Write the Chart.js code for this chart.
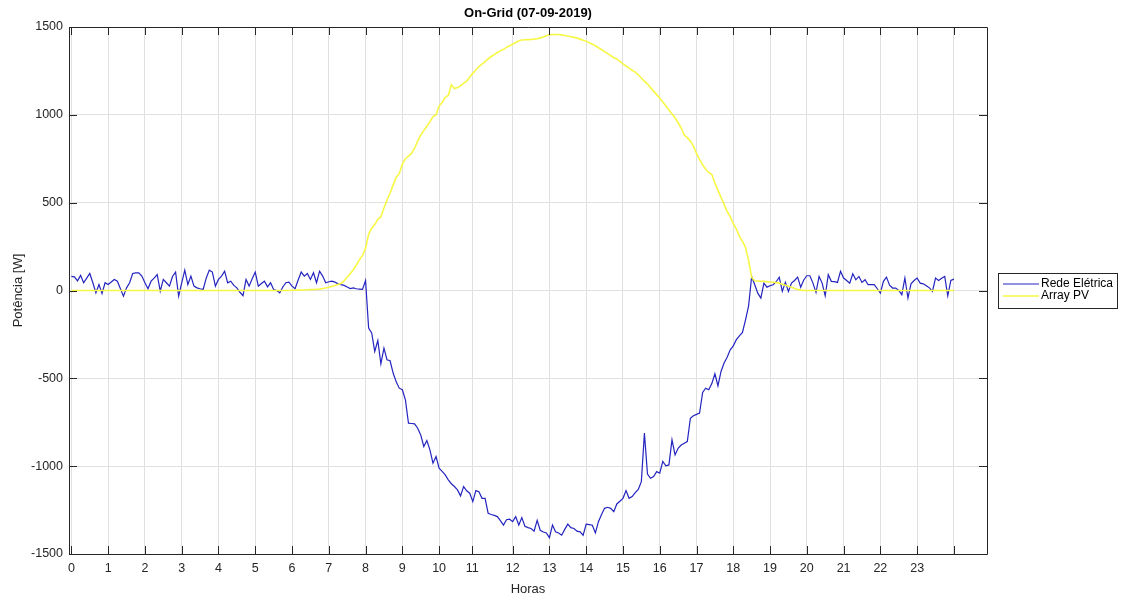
<!DOCTYPE html>
<html>
<head>
<meta charset="utf-8">
<title>On-Grid (07-09-2019)</title>
<script src="https://cdn.jsdelivr.net/npm/chart.js@4.4.1/dist/chart.umd.min.js"></script>
<style>
  html, body { margin: 0; padding: 0; background: #fff; }
  #wrap { width: 1121px; height: 601px; }
</style>
</head>
<body>
<div id="wrap"><canvas id="potChart" width="1121" height="601"></canvas></div>
<script>
// potência da rede elétrica [W], uma amostra a cada 5 min (uma linha por hora)
const rede = [
    80, 78, 55, 86, 44, 70, 97, 44, -13, 34, -17, 44,
    34, 48, 63, 53, 10, -32, 15, 44, 97, 100, 101, 82,
    44, 10, 53, 70, 91, -4, 63, 44, 25, 80, 105, -32,
    44, 116, 34, 82, 25, 15, 10, 6, 70, 116, 105, 25,
    63, 82, 110, 44, 53, 29, 15, -10, -29, 63, 25, 67,
    105, 25, 40, 53, 21, 44, 6, 0, -13, 20, 44, 48,
    25, 10, 60, 105, 82, 97, 63, 101, 44, 110, 82, 44,
    50, 53, 48, 38, 33, 29, 20, 11, 15, 10, 8, 6,
    57, -214, -242, -347, -284, -417, -328, -394, -400, -470, -520, -556,
    -565, -622, -755, -757, -759, -784, -822, -888, -854, -907, -983, -945,
    -1012, -1030, -1050, -1078, -1100, -1116, -1135, -1169, -1116, -1140, -1154, -1202,
    -1139, -1145, -1183, -1183, -1268, -1275, -1280, -1287, -1310, -1335, -1305, -1302,
    -1316, -1287, -1335, -1293, -1342, -1350, -1355, -1370, -1308, -1365, -1375, -1380,
    -1407, -1335, -1374, -1380, -1393, -1360, -1330, -1350, -1355, -1370, -1374, -1393,
    -1330, -1333, -1336, -1380, -1316, -1275, -1240, -1234, -1240, -1259, -1215, -1200,
    -1183, -1139, -1183, -1173, -1150, -1132, -1088, -812, -1045, -1069, -1059, -1031,
    -1040, -973, -998, -993, -850, -936, -898, -880, -869, -860, -727, -713,
    -705, -698, -580, -556, -565, -530, -474, -543, -461, -413, -380, -338,
    -315, -280, -258, -239, -167, -87, 80, 33, -15, -43, 42, 19,
    27, 33, 50, 76, -5, 46, -5, 42, 57, 76, 19, 60,
    84, 84, 42, -11, 80, 42, -30, 90, 52, 50, 46, 109,
    71, 57, 42, 95, 61, 80, 46, 61, 33, 33, 33, 10,
    -15, 52, 76, 30, 14, 14, 0, -24, 71, -43, 38, 57,
    71, 42, 38, 27, 15, -5, 71, 57, 70, 80, -30, 57,
    65
];

// potência do arranjo fotovoltaico [W], mesmas amostras
const arrayPV = [
    0, 0, 0, 0, 0, 0, 0, 0, 0, 0, 0, 0,
    0, 0, 0, 0, 0, 0, 0, 0, 0, 0, 0, 0,
    0, 0, 0, 0, 0, 0, 0, 0, 0, 0, 0, 0,
    0, 0, 0, 0, 0, 0, 0, 0, 0, 0, 0, 0,
    0, 0, 0, 0, 0, 0, 0, 0, 0, 0, 0, 0,
    0, 0, 0, 0, 0, 0, 0, 0, 0, 0, 0, 0,
    1, 1, 2, 3, 3, 4, 5, 6, 7, 8, 11, 14,
    18, 23, 28, 34, 40, 55, 75, 95, 118, 145, 175, 200,
    240, 320, 355, 375, 405, 420, 470, 515, 555, 600, 645, 665,
    720, 750, 765, 780, 810, 850, 885, 910, 935, 960, 990, 1000,
    1050, 1070, 1100, 1110, 1172, 1150, 1155, 1165, 1180, 1192, 1215, 1236,
    1255, 1275, 1288, 1303, 1318, 1332, 1343, 1355, 1364, 1373, 1384, 1393,
    1402, 1412, 1422, 1426, 1427, 1428, 1429, 1431, 1433, 1438, 1443, 1450,
    1456, 1457, 1457, 1457, 1455, 1452, 1449, 1445, 1441, 1437, 1431, 1425,
    1419, 1411, 1402, 1393, 1382, 1372, 1360, 1348, 1337, 1325, 1318, 1305,
    1290, 1278, 1266, 1254, 1243, 1228, 1210, 1192, 1175, 1155, 1135, 1115,
    1095, 1073, 1050, 1028, 1005, 983, 955, 925, 885, 870, 850, 822,
    780, 745, 715, 690, 672, 660, 612, 570, 530, 490, 450, 420,
    380, 350, 310, 280, 245, 170, 75, 55, 54, 53, 52, 50,
    48, 47, 45, 42, 36, 30, 24, 18, 12, 6, 2, 0,
    0, 0, 0, 0, 0, 0, 0, 0, 0, 0, 0, 0,
    0, 0, 0, 0, 0, 0, 0, 0, 0, 0, 0, 0,
    0, 0, 0, 0, 0, 0, 0, 0, 0, 0, 0, 0,
    0, 0, 0, 0, 0, 0, 0, 0, 0, 0, 0, 0,
    0
];

// marcas do eixo x (em horas) e seus rótulos
const tickHours = [0, 1, 2, 3, 4, 5, 6, 7, 8, 9, 10, 10.9, 12, 13, 14, 15, 16, 17, 18, 19, 20, 21, 22, 23, 24];
const tickLabels = ['0', '1', '2', '3', '4', '5', '6', '7', '8', '9', '10', '11', '12', '13', '14', '15', '16', '17', '18', '19', '20', '21', '22', '23', ''];
const yTicks = [-1500, -1000, -500, 0, 500, 1000, 1500];

const seriesNames = ['Rede Elétrica', 'Array PV'];
const seriesColors = ['#2424c0', '#f7f745'];

const FONT = "'Liberation Sans', Arial, sans-serif";
const AXIS = '#262626';

// tempo de cada amostra em horas (5 min)
const hours = rede.map((_, i) => i / 12);

// caixa com ticks para dentro, título e legenda no estilo MATLAB
const matlabAxes = {
    id: 'matlabAxes',
    afterDatasetsDraw(chart) {
        const { ctx, chartArea: a, scales: { x, y } } = chart;
        ctx.save();
        ctx.strokeStyle = AXIS;
        ctx.lineWidth = 1;
        ctx.beginPath();
        ctx.rect(a.left + 0.5, a.top + 0.5, a.right - a.left, a.bottom - a.top);
        tickHours.forEach(h => {
            const px = Math.round(x.getPixelForValue(h)) + 0.5;
            ctx.moveTo(px, a.bottom);
            ctx.lineTo(px, a.bottom - 8);
            ctx.moveTo(px, a.top);
            ctx.lineTo(px, a.top + 8);
        });
        yTicks.forEach(v => {
            const py = Math.round(y.getPixelForValue(v)) + 0.5;
            ctx.moveTo(a.left, py);
            ctx.lineTo(a.left + 8, py);
            ctx.moveTo(a.right, py);
            ctx.lineTo(a.right - 8, py);
        });
        ctx.stroke();
        ctx.restore();
    },
    afterDraw(chart) {
        const { ctx, chartArea: a } = chart;
        ctx.save();
        // título
        ctx.fillStyle = '#000';
        ctx.font = 'bold 13px ' + FONT;
        ctx.textAlign = 'center';
        ctx.textBaseline = 'middle';
        ctx.fillText('On-Grid (07-09-2019)', (a.left + a.right) / 2, 13);

        // legenda
        const bx = 998.5, by = 273.5, bw = 119, bh = 35;
        ctx.fillStyle = '#fff';
        ctx.fillRect(bx, by, bw, bh);
        ctx.strokeStyle = AXIS;
        ctx.lineWidth = 1;
        ctx.strokeRect(bx, by, bw, bh);
        ctx.font = '12px ' + FONT;
        ctx.textAlign = 'left';
        chart.data.datasets.forEach((ds, i) => {
            const ly = 284 + i * 12;
            ctx.strokeStyle = ds.borderColor;
            ctx.lineWidth = ds.borderWidth;
            ctx.beginPath();
            ctx.moveTo(1003, ly);
            ctx.lineTo(1039, ly);
            ctx.stroke();
            ctx.fillStyle = '#000';
            ctx.fillText(ds.label, 1041, ly);
        });
        ctx.restore();
    }
};

const ctx = document.getElementById('potChart').getContext('2d');
const chart = new Chart(ctx, {
    type: 'line',
    data: {
        labels: hours,
        datasets: [
            {
                label: seriesNames[0],
                data: rede,
                borderColor: seriesColors[0],
                borderWidth: 1.2,
                pointRadius: 0,
                fill: false,
                order: 2
            },
            {
                label: seriesNames[1],
                data: arrayPV,
                borderColor: seriesColors[1],
                borderWidth: 1.6,
                pointRadius: 0,
                fill: false,
                order: 1
            }
        ]
    },
    options: {
        responsive: false,
        animation: false,
        devicePixelRatio: 1,
        layout: { padding: { left: 0, right: 134, top: 27, bottom: 0 } },
        scales: {
            x: {
                type: 'linear',
                min: -0.065,
                max: 24.9,
                afterFit: s => { s.height = 47; },
                afterBuildTicks: s => { s.ticks = tickHours.map(v => ({ value: v })); },
                ticks: {
                    autoSkip: false,
                    maxRotation: 0,
                    padding: 7,
                    color: AXIS,
                    font: { family: FONT, size: 12.5 },
                    callback: (v, i) => tickLabels[i]
                },
                grid: { color: '#e0e0e0', drawTicks: false },
                border: { display: false },
                title: {
                    display: true,
                    text: 'Horas',
                    color: AXIS,
                    font: { family: FONT, size: 13 },
                    padding: { top: 0, bottom: 4 }
                }
            },
            y: {
                min: -1500,
                max: 1500,
                afterFit: s => { s.width = 69; },
                afterBuildTicks: s => { s.ticks = yTicks.map(v => ({ value: v })); },
                ticks: {
                    padding: 6,
                    color: AXIS,
                    font: { family: FONT, size: 12.5 },
                    callback: v => String(v)
                },
                grid: { color: '#e0e0e0', drawTicks: false },
                border: { display: false },
                title: {
                    display: true,
                    text: 'Potência [W]',
                    color: AXIS,
                    font: { family: FONT, size: 13 },
                    padding: { top: 11, bottom: 0 }
                }
            }
        },
        plugins: {
            legend: { display: false },
            title: { display: false },
            tooltip: { enabled: false }
        }
    },
    plugins: [matlabAxes]
});
</script>
</body>
</html>
